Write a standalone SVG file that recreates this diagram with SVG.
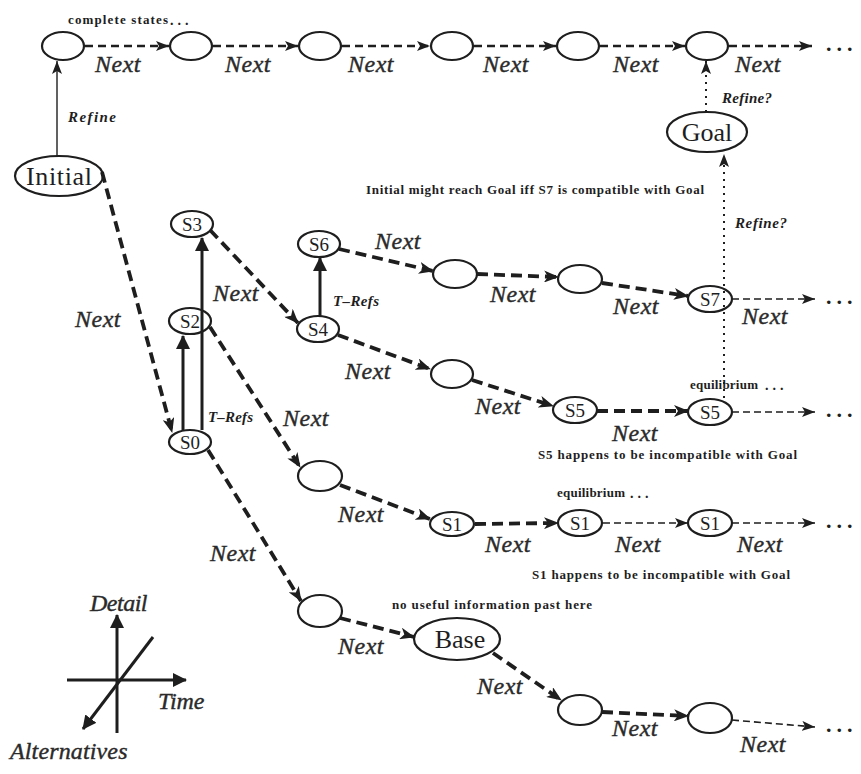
<svg xmlns="http://www.w3.org/2000/svg" width="861" height="774" viewBox="0 0 861 774">
<defs>
<style>
text{font-family:'Liberation Serif','Times New Roman','DejaVu Serif',serif}
.n{fill:none;stroke:#1e1e1e;stroke-width:2.2}
.lbl{fill:#1e1e1e;text-anchor:middle}
.big{font-size:26px}
.s{font-size:19px}
.nx{font-style:italic;font-size:24px;fill:#2a2a2a;stroke:#2a2a2a;stroke-width:0.4;letter-spacing:0.5px}
.note{font-weight:bold;font-size:13px;fill:#1e1e1e}
.bi{font-weight:bold;font-style:italic;font-size:15px;fill:#1e1e1e}
.dots{font-weight:bold;font-size:22px;fill:#1e1e1e;letter-spacing:5px}
.sd{font-weight:bold;font-size:14px;fill:#1e1e1e;letter-spacing:4px}
.thick{fill:none;stroke:#1e1e1e;stroke-width:3.8;stroke-dasharray:11 6}
.thin{fill:none;stroke:#1e1e1e;stroke-width:1.6;stroke-dasharray:7 4}
.mid{fill:none;stroke:#1e1e1e;stroke-width:2.4;stroke-dasharray:8 5}
.dot{fill:none;stroke:#1e1e1e;stroke-width:2;stroke-dasharray:2 5}
.solid{fill:none;stroke:#1e1e1e;stroke-width:3}
.hair{fill:none;stroke:#1e1e1e;stroke-width:1.4}
</style>
<marker id="ah" markerUnits="userSpaceOnUse" markerWidth="16" markerHeight="12" refX="14" refY="6" orient="auto">
<path d="M0,0 L15,6 L0,12 L4,6 z" fill="#1e1e1e"/>
</marker>
<marker id="at" markerUnits="userSpaceOnUse" markerWidth="14" markerHeight="10" refX="13" refY="5" orient="auto">
<path d="M0,0 L13,5 L0,10 L3,5 z" fill="#1e1e1e"/>
</marker>
<marker id="av" markerUnits="userSpaceOnUse" markerWidth="14" markerHeight="16" refX="13" refY="7" orient="auto">
<path d="M0,0 L14,7 L0,14 z" fill="#1e1e1e"/>
</marker>
</defs>
<rect width="861" height="774" fill="#ffffff"/>

<g id="connectors">
<path class="mid" d="M85,46 L169,46" marker-end="url(#at)"/>
<path class="mid" d="M213,46 L298,46" marker-end="url(#at)"/>
<path class="mid" d="M342,46 L430,46" marker-end="url(#at)"/>
<path class="mid" d="M474,46 L556,46" marker-end="url(#at)"/>
<path class="mid" d="M600,46 L685,46" marker-end="url(#at)"/>
<path class="mid" d="M729,46 L812,46" marker-end="url(#at)"/>
<path class="hair" d="M57,156 L57,61" marker-end="url(#at)"/>
<path class="dot" d="M706,112 L706,61" marker-end="url(#at)"/>
<path class="dot" d="M724,398 L724,154" marker-end="url(#at)"/>
<path class="solid" d="M183,430 L183,336" marker-end="url(#av)"/>
<path class="solid" d="M202,430 L202,238" marker-end="url(#av)"/>
<path class="solid" d="M320,316 L320,258" marker-end="url(#av)"/>
<path class="thick" d="M102,172 L172,432" marker-end="url(#ah)"/>
<path class="thick" d="M210,230 L298,323" marker-end="url(#ah)"/>
<path class="thick" d="M210,327 L300,467" marker-end="url(#ah)"/>
<path class="thick" d="M208,450 L301,601" marker-end="url(#ah)"/>
<path class="thick" d="M339,249 L433,271" marker-end="url(#ah)"/>
<path class="thick" d="M477,274 L558,277" marker-end="url(#ah)"/>
<path class="thick" d="M602,283 L688,296" marker-end="url(#ah)"/>
<path class="thick" d="M338,335 L430,369" marker-end="url(#ah)"/>
<path class="thick" d="M472,380 L553,406" marker-end="url(#ah)"/>
<path class="thick" d="M597,411 L688,411" marker-end="url(#ah)"/>
<path class="thick" d="M340,485 L430,519" marker-end="url(#ah)"/>
<path class="thick" d="M475,524 L558,523" marker-end="url(#ah)"/>
<path class="thick" d="M340,618 L414,637" marker-end="url(#ah)"/>
<path class="thick" d="M493,653 L561,700" marker-end="url(#ah)"/>
<path class="thick" d="M602,712 L688,716" marker-end="url(#ah)"/>
<path class="thin" d="M732,299 L815,299" marker-end="url(#at)"/>
<path class="thin" d="M732,412 L815,412" marker-end="url(#at)"/>
<path class="thin" d="M603,523 L688,523" marker-end="url(#at)"/>
<path class="thin" d="M732,523 L815,523" marker-end="url(#at)"/>
<path class="thin" d="M732,720 L815,727" marker-end="url(#at)"/>
<path class="solid" d="M117,733 L117,615" marker-end="url(#av)"/>
<path class="solid" d="M67,680 L186,680" marker-end="url(#av)"/>
<path class="solid" d="M153,637 L83,729" marker-end="url(#av)"/>
</g>

<g id="top-row">
<ellipse class="n" cx="63" cy="46" rx="21" ry="14"/>
<ellipse class="n" cx="191" cy="46" rx="21" ry="14"/>
<ellipse class="n" cx="320" cy="46" rx="21" ry="14"/>
<ellipse class="n" cx="452" cy="46" rx="21" ry="14"/>
<ellipse class="n" cx="578" cy="46" rx="21" ry="14"/>
<ellipse class="n" cx="707" cy="46" rx="21" ry="14"/>
</g>
<g id="initial"><ellipse class="n" cx="59" cy="176" rx="44" ry="20"/><text class="lbl big" x="59" y="185" textLength="66">Initial</text></g>
<g id="goal"><ellipse class="n" cx="707" cy="132" rx="40" ry="20"/><text class="lbl big" x="707" y="141">Goal</text></g>
<g id="s3"><ellipse class="n" cx="192" cy="224" rx="21" ry="13"/><text class="lbl s" x="192" y="231">S3</text></g>
<g id="s2"><ellipse class="n" cx="190" cy="321" rx="21" ry="13"/><text class="lbl s" x="190" y="328">S2</text></g>
<g id="s0"><ellipse class="n" cx="190" cy="442" rx="21" ry="12"/><text class="lbl s" x="190" y="449">S0</text></g>
<g id="s6"><ellipse class="n" cx="319" cy="244" rx="21" ry="13"/><text class="lbl s" x="319" y="251">S6</text></g>
<g id="s4"><ellipse class="n" cx="318" cy="329" rx="21" ry="13"/><text class="lbl s" x="318" y="336">S4</text></g>
<g id="e3"><ellipse class="n" cx="455" cy="274" rx="22" ry="14"/></g>
<g id="e4"><ellipse class="n" cx="580" cy="279" rx="22" ry="14"/></g>
<g id="s7"><ellipse class="n" cx="710" cy="299" rx="22" ry="13"/><text class="lbl s" x="710" y="306">S7</text></g>
<g id="e5"><ellipse class="n" cx="452" cy="374" rx="21" ry="14"/></g>
<g id="s5a"><ellipse class="n" cx="575" cy="410" rx="22" ry="13"/><text class="lbl s" x="575" y="417">S5</text></g>
<g id="s5b"><ellipse class="n" cx="710" cy="412" rx="22" ry="13"/><text class="lbl s" x="710" y="419">S5</text></g>
<g id="e1"><ellipse class="n" cx="320" cy="476" rx="22" ry="15"/></g>
<g id="s1a"><ellipse class="n" cx="452" cy="524" rx="22" ry="12"/><text class="lbl s" x="452" y="531">S1</text></g>
<g id="s1b"><ellipse class="n" cx="580" cy="523" rx="22" ry="13"/><text class="lbl s" x="580" y="530">S1</text></g>
<g id="s1c"><ellipse class="n" cx="710" cy="523" rx="22" ry="13"/><text class="lbl s" x="710" y="530">S1</text></g>
<g id="e2"><ellipse class="n" cx="320" cy="611" rx="22" ry="16"/></g>
<g id="base"><ellipse class="n" cx="457" cy="639" rx="43" ry="21"/><text class="lbl big" x="460" y="648">Base</text></g>
<g id="e6"><ellipse class="n" cx="580" cy="710" rx="22" ry="15"/></g>
<g id="e7"><ellipse class="n" cx="710" cy="718" rx="22" ry="15"/></g>

<g id="labels">
<text class="nx" x="95" y="72">Next</text>
<text class="nx" x="225" y="72">Next</text>
<text class="nx" x="348" y="72">Next</text>
<text class="nx" x="483" y="72">Next</text>
<text class="nx" x="613" y="72">Next</text>
<text class="nx" x="735" y="72">Next</text>
<text class="nx" x="75" y="327">Next</text>
<text class="nx" x="213" y="301">Next</text>
<text class="nx" x="283" y="426">Next</text>
<text class="nx" x="375" y="249">Next</text>
<text class="nx" x="345" y="379">Next</text>
<text class="nx" x="490" y="302">Next</text>
<text class="nx" x="613" y="314">Next</text>
<text class="nx" x="742" y="324">Next</text>
<text class="nx" x="475" y="414">Next</text>
<text class="nx" x="612" y="441">Next</text>
<text class="nx" x="338" y="522">Next</text>
<text class="nx" x="485" y="552">Next</text>
<text class="nx" x="615" y="552">Next</text>
<text class="nx" x="737" y="552">Next</text>
<text class="nx" x="210" y="561">Next</text>
<text class="nx" x="338" y="654">Next</text>
<text class="nx" x="477" y="694">Next</text>
<text class="nx" x="612" y="736">Next</text>
<text class="nx" x="740" y="752">Next</text>

<text class="bi" x="68" y="122" textLength="48">Refine</text>
<text class="bi" x="722" y="103" textLength="50">Refine?</text>
<text class="bi" x="735" y="228" textLength="52">Refine?</text>
<text class="bi" x="208" y="422" textLength="45">T–Refs</text>
<text class="bi" x="333" y="306" textLength="46">T–Refs</text>

<text class="note" x="68" y="24" textLength="100">complete states</text>
<text class="sd" x="170" y="25">...</text>
<text class="note" x="366" y="194" textLength="338">Initial might reach Goal iff S7 is compatible with Goal</text>
<text class="note" x="690" y="389" textLength="68">equilibrium</text>
<text class="sd" x="765" y="390">...</text>
<text class="note" x="538" y="459" textLength="259">S5 happens to be incompatible with Goal</text>
<text class="note" x="557" y="497" textLength="68">equilibrium</text>
<text class="sd" x="630" y="498">...</text>
<text class="note" x="532" y="579" textLength="258">S1 happens to be incompatible with Goal</text>
<text class="note" x="392" y="609" textLength="200">no useful information past here</text>

<text class="dots" x="826" y="51">...</text>
<text class="dots" x="826" y="304">...</text>
<text class="dots" x="826" y="417">...</text>
<text class="dots" x="826" y="528">...</text>
<text class="dots" x="826" y="732">...</text>

<text class="nx" x="90" y="611" textLength="58">Detail</text>
<text class="nx" x="158" y="709" textLength="47">Time</text>
<text class="nx" x="10" y="759" textLength="118">Alternatives</text>
</g>
</svg>
